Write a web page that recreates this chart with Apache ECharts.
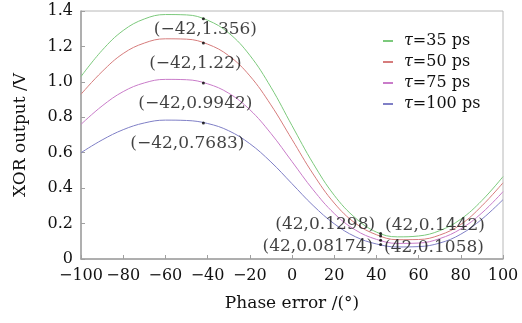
<!DOCTYPE html>
<html>
<head>
<meta charset="utf-8">
<script src="https://cdn.jsdelivr.net/npm/echarts@6/dist/echarts.min.js"></script>
<style>
  html, body { margin: 0; padding: 0; background: #fff; }
  #chart { width: 522px; height: 323px; }
</style>
</head>
<body>
<div id="chart"></div>
<script>
const phaseError = [-100, -90, -80, -70, -60, -50, -40, -30, -20, -10, 0, 10, 20, 30, 40, 50, 60, 70, 80, 90, 100]
const tau35 = [1.03, 1.178, 1.29, 1.355, 1.38, 1.378, 1.348, 1.276, 1.15, 0.97, 0.753, 0.54, 0.36, 0.232, 0.152, 0.125, 0.13, 0.16, 0.225, 0.33, 0.465]
const tau50 = [0.93, 1.058, 1.16, 1.219, 1.243, 1.241, 1.213, 1.148, 1.034, 0.87, 0.675, 0.48, 0.316, 0.202, 0.137, 0.109, 0.11, 0.135, 0.195, 0.3, 0.43]
const tau75 = [0.76, 0.864, 0.945, 0.994, 1.014, 1.012, 0.989, 0.936, 0.843, 0.709, 0.55, 0.391, 0.257, 0.164, 0.111, 0.088, 0.09, 0.115, 0.17, 0.26, 0.38]
const tau100 = [0.6, 0.672, 0.73, 0.768, 0.784, 0.782, 0.765, 0.724, 0.651, 0.548, 0.425, 0.302, 0.199, 0.126, 0.085, 0.068, 0.07, 0.09, 0.14, 0.225, 0.335]

const seriesNames = ['τ=35 ps', 'τ=50 ps', 'τ=75 ps', 'τ=100 ps']
const seriesColors = ['#7cc97c', '#d67c7c', '#c97cc9', '#7f7fc6']

// marked points and their labels
const markX = [-42, -42, -42, -42, 42, 42, 42, 42]
const markY = [1.356, 1.22, 0.9942, 0.7683, 0.1298, 0.1442, 0.08174, 0.1058]
const markText = ['(−42,1.356)', '(−42,1.22)', '(−42,0.9942)', '(−42,0.7683)', '(42,0.1298)', '(42,0.1442)', '(42,0.08174)', '(42,0.1058)']

const FONT = 'DejaVu Serif'
const labelPlace = [
    { position: 'bottom', distance: 2, offset: [2, -1] },
    { position: 'bottom', distance: 2, offset: [-8, 9] },
    { position: 'bottom', distance: 2, offset: [-8, 9] },
    { position: 'bottom', distance: 2, offset: [-16, 9] },
    { position: 'left', distance: 4, offset: [0, -11] },
    { position: 'right', distance: 3, offset: [0, -8] },
    { position: 'left', distance: 6, offset: [0, 2] },
    { position: 'right', distance: 2, offset: [0, 7] },
]

const lineData = [tau35, tau50, tau75, tau100].map((ys) => phaseError.map((x, i) => [x, ys[i]]))

const myChart = echarts.init(document.getElementById('chart'), null, { renderer: 'canvas' })

const gray = '#a0a0a0'
const option = {
    animation: false,
    textStyle: { fontFamily: FONT },
    grid: { left: 81, right: 19, top: 11, bottom: 64, show: true, borderColor: '#b8b8b8', borderWidth: 1 },
    legend: {
        orient: 'vertical',
        left: 378,
        top: 28,
        itemWidth: 10,
        itemHeight: 2,
        itemGap: 5,
        icon: 'rect',
        data: seriesNames,
        formatter: (name) => '{i|τ}' + name.slice(1),
        textStyle: {
            fontFamily: FONT,
            fontSize: 16,
            color: '#111',
            padding: [0, 0, 0, 6],
            rich: { i: { fontFamily: FONT, fontStyle: 'italic', fontSize: 16, color: '#111' } },
        },
    },
    xAxis: {
        type: 'value',
        min: -100,
        max: 100,
        interval: 20,
        name: 'Phase error /(°)',
        nameLocation: 'middle',
        nameGap: 36,
        nameTextStyle: { fontFamily: FONT, fontSize: 17, color: '#111' },
        axisLine: { show: true, onZero: false, lineStyle: { color: gray, width: 1.5 } },
        axisTick: { show: true, inside: true, length: 4, lineStyle: { color: gray } },
        axisLabel: {
            fontFamily: FONT,
            fontSize: 16,
            color: '#111',
            margin: 9,
            formatter: (v) => (v < 0 ? '−' + Math.abs(v) : String(v)),
        },
        splitLine: { show: false },
    },
    yAxis: {
        type: 'value',
        min: 0,
        max: 1.4,
        interval: 0.2,
        name: 'XOR output /V',
        nameLocation: 'middle',
        nameRotate: 90,
        nameGap: 52,
        nameTextStyle: { fontFamily: FONT, fontSize: 17, color: '#111' },
        axisLine: { show: true, onZero: false, lineStyle: { color: gray, width: 1.5 } },
        axisTick: { show: true, inside: true, length: 4, lineStyle: { color: gray } },
        axisLabel: {
            fontFamily: FONT,
            fontSize: 16,
            color: '#111',
            margin: 8,
            formatter: (v) => (v === 0 ? '0' : v.toFixed(1)),
        },
        splitLine: { show: false },
    },
    series: [
        ...seriesNames.map((name, k) => ({
            name: name,
            type: 'line',
            data: lineData[k],
            smooth: 0.4,
            showSymbol: false,
            lineStyle: { width: 1, color: seriesColors[k] },
            itemStyle: { color: seriesColors[k] },
        })),
        {
            name: 'marks',
            type: 'scatter',
            symbolSize: 3,
            itemStyle: { color: '#000' },
            z: 5,
            data: markX.map((x, i) => ({
                value: [x, markY[i]],
                label: {
                    show: true,
                    formatter: markText[i],
                    fontFamily: FONT,
                    fontSize: 17,
                    color: '#111',
                    position: labelPlace[i].position,
                    distance: labelPlace[i].distance,
                    offset: labelPlace[i].offset,
                },
            })),
        },
    ],
}

myChart.setOption(option)
</script>
</body>
</html>
